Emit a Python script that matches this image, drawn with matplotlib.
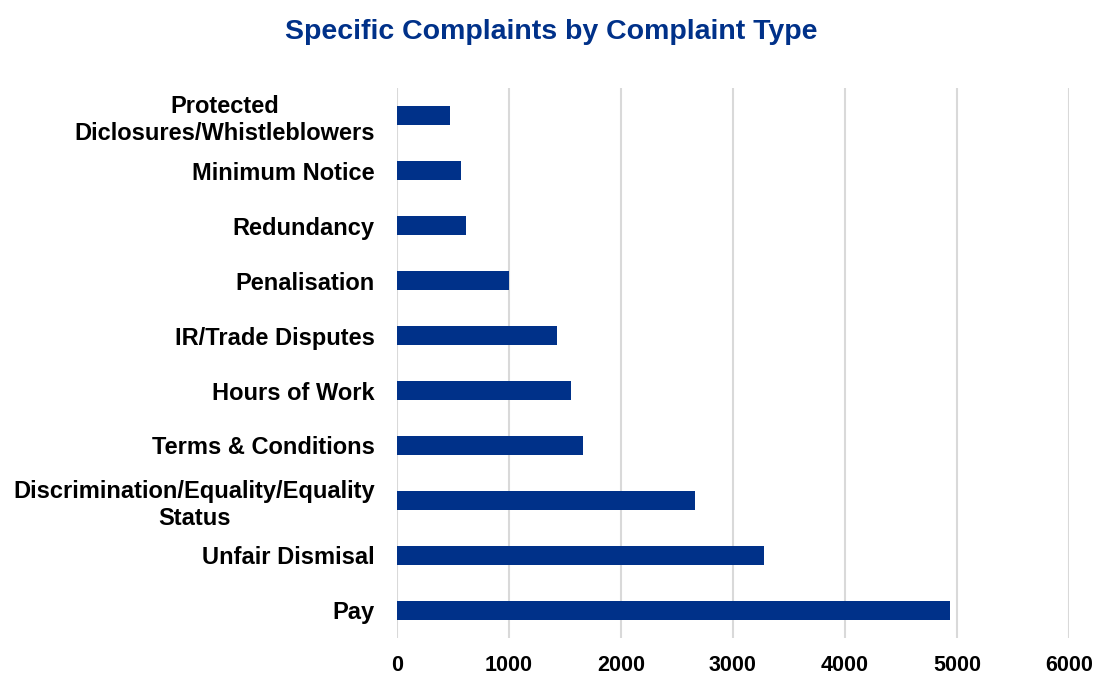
import matplotlib
matplotlib.use("Agg")
import matplotlib.pyplot as plt

# DATA
categories = ["Pay", "Unfair Dismisal", "Discrimination/Equality/Equality\nStatus",
              "Terms & Conditions", "Hours of Work", "IR/Trade Disputes",
              "Penalisation", "Redundancy", "Minimum Notice",
              "Protected\nDiclosures/Whistleblowers"]
complaints = [4943, 3275, 2660, 1660, 1553, 1432, 1003, 618, 573, 474]
xticks = [0, 1000, 2000, 3000, 4000, 5000, 6000]

plt.rcParams['font.family'] = ['Liberation Sans', 'DejaVu Sans']
navy = '#003189'

fig = plt.figure(figsize=(11.03, 6.83), dpi=100)
ax = fig.add_axes([0.36, 0.066, 0.609, 0.805])

ax.barh(range(len(categories)), complaints, height=0.36, color=navy, zorder=3)

ax.set_xlim(0, 6000)
ax.set_ylim(-0.5, len(categories) - 0.5)
ax.set_xticks(xticks)
ax.set_xticklabels([str(t) for t in xticks], fontsize=15.5, fontweight='bold')
ax.set_yticks(range(len(categories)))
ax.set_yticklabels(categories, fontsize=17, fontweight='bold', multialignment='center')
ax.tick_params(axis='both', length=0)
ax.tick_params(axis='x', pad=12)
ax.tick_params(axis='y', pad=16)

ax.grid(axis='x', color='#d9d9d9', linewidth=1.5, zorder=0)
for s in ax.spines.values():
    s.set_visible(False)

fig.text(0.5, 0.953, "Specific Complaints by Complaint Type", ha='center', va='center',
         fontsize=20.5, fontweight='bold', color=navy)

fig.savefig("out.png", dpi=100)
